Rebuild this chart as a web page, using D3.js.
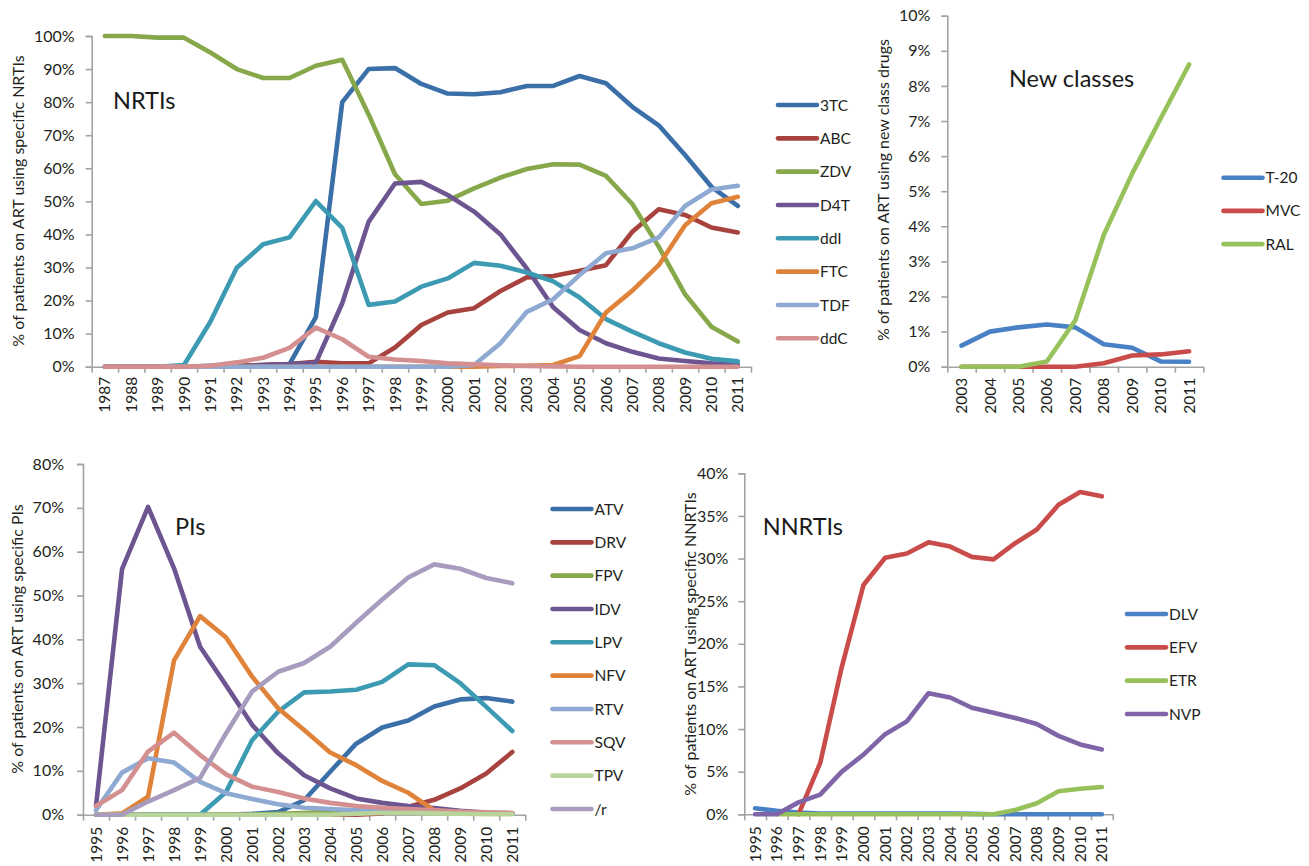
<!DOCTYPE html>
<html>
<head>
<meta charset="utf-8">
<script src="https://cdn.jsdelivr.net/npm/d3@7"></script>
<style>
  html, body { margin: 0; padding: 0; background: #fff; }
  svg { display: block; font-family: Lato, "Open Sans", sans-serif; }
  .tick text { fill: #231F20; }
</style>
</head>
<body>
<svg id="chart" width="1309" height="866"></svg>
<script>
// ---- NRTIs ----
const nrtiYears = ["1987","1988","1989","1990","1991","1992","1993","1994","1995","1996","1997","1998","1999","2000","2001","2002","2003","2004","2005","2006","2007","2008","2009","2010","2011"];
const nrtiNames = ["3TC","ABC","ZDV","D4T","ddI","FTC","TDF","ddC"];
const nrti3TC = [0,0,0,0,0.3,0.3,0.5,0.8,15,80,90,90.3,85.5,82.6,82.4,83,84.9,84.9,87.9,85.7,78.6,73,64,54.4,48.6];
const nrtiABC = [0,0,0,0,0,0.3,0.5,0.8,1.5,1,1,5.8,12.6,16.4,17.7,22.9,27,27.4,29,30.7,40.8,47.6,45.9,42.1,40.6];
const nrtiZDV = [100,100,99.5,99.5,95,90,87.3,87.3,91,92.8,76.3,58.2,49.2,50.2,53.9,57.2,59.8,61.2,61.1,57.7,49.2,36.3,21.9,12.1,7.6];
const nrtiD4T = [0,0,0,0,0,0,0.5,0.8,1.2,19.2,43.8,55.4,55.9,51.9,46.9,40,29.7,18,11.1,7.1,4.5,2.5,1.7,1,0.6];
const nrtiDDI = [0,0,0,0.5,13.6,29.9,37,39.1,50.1,42,18.7,19.7,24.2,26.7,31.4,30.5,28.5,25.8,20.9,14.4,10.6,7.1,4.3,2.4,1.6];
const nrtiFTC = [0,0,0,0,0,0,0,0,0,0,0,0,0,0,0,0.2,0.3,0.5,3.2,16.4,23,30.7,42.8,49.4,51.4];
const nrtiTDF = [0,0,0,0,0,0,0,0,0,0,0,0,0,0,0.5,7.1,16.6,20.4,27.7,34.3,35.8,39.1,48.6,53.6,54.7];
const nrtiDDC = [0,0,0,0,0.3,1.3,2.7,5.7,11.8,8.3,3,2.2,1.7,1,0.7,0.4,0.2,0.1,0,0,0,0,0,0,0];
const nrtiColors = ["#3A6FA8","#A8423F","#87A84A","#6C5590","#3C9BB3","#E0833A","#8EA9D2","#D49090"];
const nrtiTicks = [0,10,20,30,40,50,60,70,80,90,100];

// ---- New classes ----
const newYears = ["2003","2004","2005","2006","2007","2008","2009","2010","2011"];
const newNames = ["T-20","MVC","RAL"];
const newT20 = [0.6,1.0,1.12,1.2,1.12,0.64,0.54,0.15,0.14];
const newMVC = [0,0,0,0,0,0.1,0.32,0.35,0.44];
const newRAL = [0,0,0,0.15,1.32,3.75,5.5,7.07,8.61];
const newColors = ["#4A80C4","#C94C4A","#97C15A"];
const newTicks = [0,1,2,3,4,5,6,7,8,9,10];

// ---- PIs ----
const piYears = ["1995","1996","1997","1998","1999","2000","2001","2002","2003","2004","2005","2006","2007","2008","2009","2010","2011"];
const piNames = ["ATV","DRV","FPV","IDV","LPV","NFV","RTV","SQV","TPV","/r"];
const piATV = [0,0,0,0,0,0,0.2,0.6,3.3,9.8,16.2,19.9,21.5,24.7,26.3,26.6,25.8];
const piDRV = [0,0,0,0,0,0,0,0,0,0,0,0.3,1.8,3.4,6,9.4,14.3];
const piFPV = [0,0,0,0,0,0,0,0.2,0.4,0.7,0.9,0.9,0.8,0.6,0.4,0.3,0.2];
const piIDV = [2,56,70.2,56.2,38.3,29.5,20.5,14,9,6,3.7,2.7,2,1.5,0.9,0.5,0.3];
const piLPV = [0,0,0,0,0,5.2,17,23.5,27.9,28.1,28.5,30.3,34.3,34.1,30,24.6,19.1];
const piNFV = [0,0.3,4.1,35.2,45.3,40.4,31.5,24.3,19.3,14.2,11.3,7.7,5,1,0.5,0.3,0.2];
const piRTV = [1,9.6,12.9,11.9,7.5,4.9,3.6,2.4,1.6,1.3,1,0.8,0.6,0.5,0.4,0.3,0.2];
const piSQV = [2,5.6,14.4,18.7,13.6,9.2,6.4,5.2,3.7,2.7,2,1.6,1.3,1,0.7,0.5,0.4];
const piTPV = [0,0,0,0,0,0,0,0,0,0,0.2,0.4,0.4,0.3,0.2,0.1,0.1];
const piR = [0,0,3,5.6,8.4,18.6,28.1,32.6,34.6,38.3,43.8,49.1,54.1,57.1,56.1,54,52.8];
const piColors = ["#3A6FA8","#A8423F","#87A84A","#6C5590","#3C9BB3","#E0833A","#8EA9D2","#D49090","#B8D49B","#A79BBE"];
const piTicks = [0,10,20,30,40,50,60,70,80];

// ---- NNRTIs ----
const nnYears = ["1995","1996","1997","1998","1999","2000","2001","2002","2003","2004","2005","2006","2007","2008","2009","2010","2011"];
const nnNames = ["DLV","EFV","ETR","NVP"];
const nnDLV = [0.7,0.4,0.2,0.1,0.1,0.1,0.1,0.1,0.1,0.1,0.05,0,0,0,0,0,0];
const nnEFV = [null,null,0,6,17.3,26.9,30.1,30.6,31.9,31.4,30.2,29.9,31.8,33.4,36.3,37.8,37.3];
const nnETR = [null,0,0,0,0,0,0,0,0,0,0,0,0.5,1.3,2.7,3,3.2];
const nnNVP = [0,0,1.4,2.3,5,7,9.4,10.9,14.2,13.7,12.5,11.9,11.3,10.6,9.2,8.2,7.6];
const nnColors = ["#4A80C4","#C94C4A","#97C15A","#8064A8"];
const nnTicks = [0,5,10,15,20,25,30,35,40];

const svg = d3.select("#chart");
const AXIS = "#A3A3A3";
const INK = "#231F20";

function panel(cfg) {
  const g = svg.append("g");
  const n = cfg.years.length;
  const yMax = cfg.ticks[cfg.ticks.length - 1];

  const xBound = d3.scaleLinear().domain([0, n]).range([cfg.left, cfg.right]);
  const xBand = d3.scaleBand().domain(cfg.years).range([cfg.left, cfg.right]).padding(0);
  const y = d3.scaleLinear().domain([0, yMax]).range([cfg.bottom, cfg.top]);

  // y axis
  const yAxis = g.append("g")
    .attr("transform", `translate(${cfg.left},0)`)
    .call(d3.axisLeft(y).tickValues(cfg.ticks).tickSize(6).tickPadding(cfg.tickPad)
      .tickFormat(d => d + "%"));
  yAxis.select(".domain").attr("stroke", AXIS).attr("stroke-width", 1.6);
  yAxis.selectAll(".tick line").attr("stroke", AXIS).attr("stroke-width", 1.6);
  yAxis.selectAll(".tick text").attr("font-size", 16).attr("fill", INK)
    .attr("font-family", "Lato, sans-serif");

  // x axis: boundary ticks
  const xTicks = g.append("g")
    .attr("transform", `translate(0,${cfg.bottom})`)
    .call(d3.axisBottom(xBound).tickValues(d3.range(n + 1)).tickSize(6).tickSizeOuter(0).tickFormat(""));
  xTicks.select(".domain").attr("stroke", AXIS).attr("stroke-width", 1.6);
  xTicks.selectAll(".tick line").attr("stroke", AXIS).attr("stroke-width", 1.6);

  // x axis: category labels, rotated
  const xLab = g.append("g")
    .attr("transform", `translate(0,${cfg.bottom})`)
    .call(d3.axisBottom(xBand).tickSize(0).tickPadding(0));
  xLab.select(".domain").remove();
  xLab.selectAll(".tick text")
    .attr("font-size", 15.5).attr("fill", INK).attr("font-family", "Lato, sans-serif")
    .attr("transform", "rotate(-90)")
    .attr("text-anchor", "end")
    .attr("x", -cfg.labGap).attr("y", 0).attr("dy", "0.36em");

  // y axis title
  g.append("text")
    .attr("transform", `translate(${cfg.titleX},${cfg.titleY}) rotate(-90)`)
    .attr("text-anchor", "middle").attr("dy", "0.36em")
    .attr("font-size", 16).attr("fill", INK)
    .text(cfg.yTitle);

  // panel label
  g.append("text")
    .attr("x", cfg.nameX).attr("y", cfg.nameY)
    .attr("font-size", 23.5).attr("fill", "#1a1a1a")
    .text(cfg.name);

  // series
  const line = d3.line()
    .defined(d => d.v !== null)
    .x(d => xBand(d.year) + xBand.bandwidth() / 2)
    .y(d => y(d.v));

  cfg.series.forEach((vals, i) => {
    const pts = cfg.years.map((yr, j) => ({ year: yr, v: vals[j] }));
    g.append("path")
      .datum(pts)
      .attr("fill", "none")
      .attr("stroke", cfg.colors[i])
      .attr("stroke-width", 4.6)
      .attr("stroke-linejoin", "round")
      .attr("stroke-linecap", "round")
      .attr("d", line);
  });

  // legend
  const leg = g.append("g");
  cfg.names.forEach((nm, i) => {
    const ly = cfg.legTop + i * cfg.legStep;
    leg.append("line")
      .attr("x1", cfg.legX).attr("x2", cfg.legX + 39)
      .attr("y1", ly).attr("y2", ly)
      .attr("stroke", cfg.colors[i]).attr("stroke-width", 4.6)
      .attr("stroke-linecap", "round");
    leg.append("text")
      .attr("x", cfg.legX + 42).attr("y", ly).attr("dy", "0.36em")
      .attr("font-size", 15.5).attr("fill", INK)
      .text(nm);
  });
}

panel({
  years: nrtiYears, names: nrtiNames, colors: nrtiColors, ticks: nrtiTicks,
  series: [nrti3TC, nrtiABC, nrtiZDV, nrtiD4T, nrtiDDI, nrtiFTC, nrtiTDF, nrtiDDC],
  left: 91.7, right: 751, top: 36, bottom: 366.7, tickPad: 11, labGap: 10,
  yTitle: "% of patients on ART using specific NRTIs", titleX: 18, titleY: 201,
  name: "NRTIs", nameX: 113, nameY: 108.5,
  legX: 778, legTop: 105, legStep: 33.33
});

panel({
  years: newYears, names: newNames, colors: newColors, ticks: newTicks,
  series: [newT20, newMVC, newRAL],
  left: 947.3, right: 1203.3, top: 15.7, bottom: 366.7, tickPad: 11, labGap: 11,
  yTitle: "% of patients on ART using new class drugs", titleX: 883, titleY: 190,
  name: "New classes", nameX: 1009, nameY: 87,
  legX: 1223.5, legTop: 177.7, legStep: 33.2
});

panel({
  years: piYears, names: piNames, colors: piColors, ticks: piTicks,
  series: [piATV, piDRV, piFPV, piIDV, piLPV, piNFV, piRTV, piSQV, piTPV, piR],
  left: 83, right: 525.3, top: 464, bottom: 814.7, tickPad: 13, labGap: 12,
  yTitle: "% of patients on ART using specific PIs", titleX: 17, titleY: 639,
  name: "PIs", nameX: 175, nameY: 535,
  legX: 552.5, legTop: 509, legStep: 33.33
});

panel({
  years: nnYears, names: nnNames, colors: nnColors, ticks: nnTicks,
  series: [nnDLV, nnEFV, nnETR, nnNVP],
  left: 744.3, right: 1112.7, top: 473.3, bottom: 814.3, tickPad: 10, labGap: 12,
  yTitle: "% of patients on ART using specific NNRTIs", titleX: 690, titleY: 644,
  name: "NNRTIs", nameX: 762.7, nameY: 535,
  legX: 1127, legTop: 614, legStep: 33.33
});
</script>
</body>
</html>
